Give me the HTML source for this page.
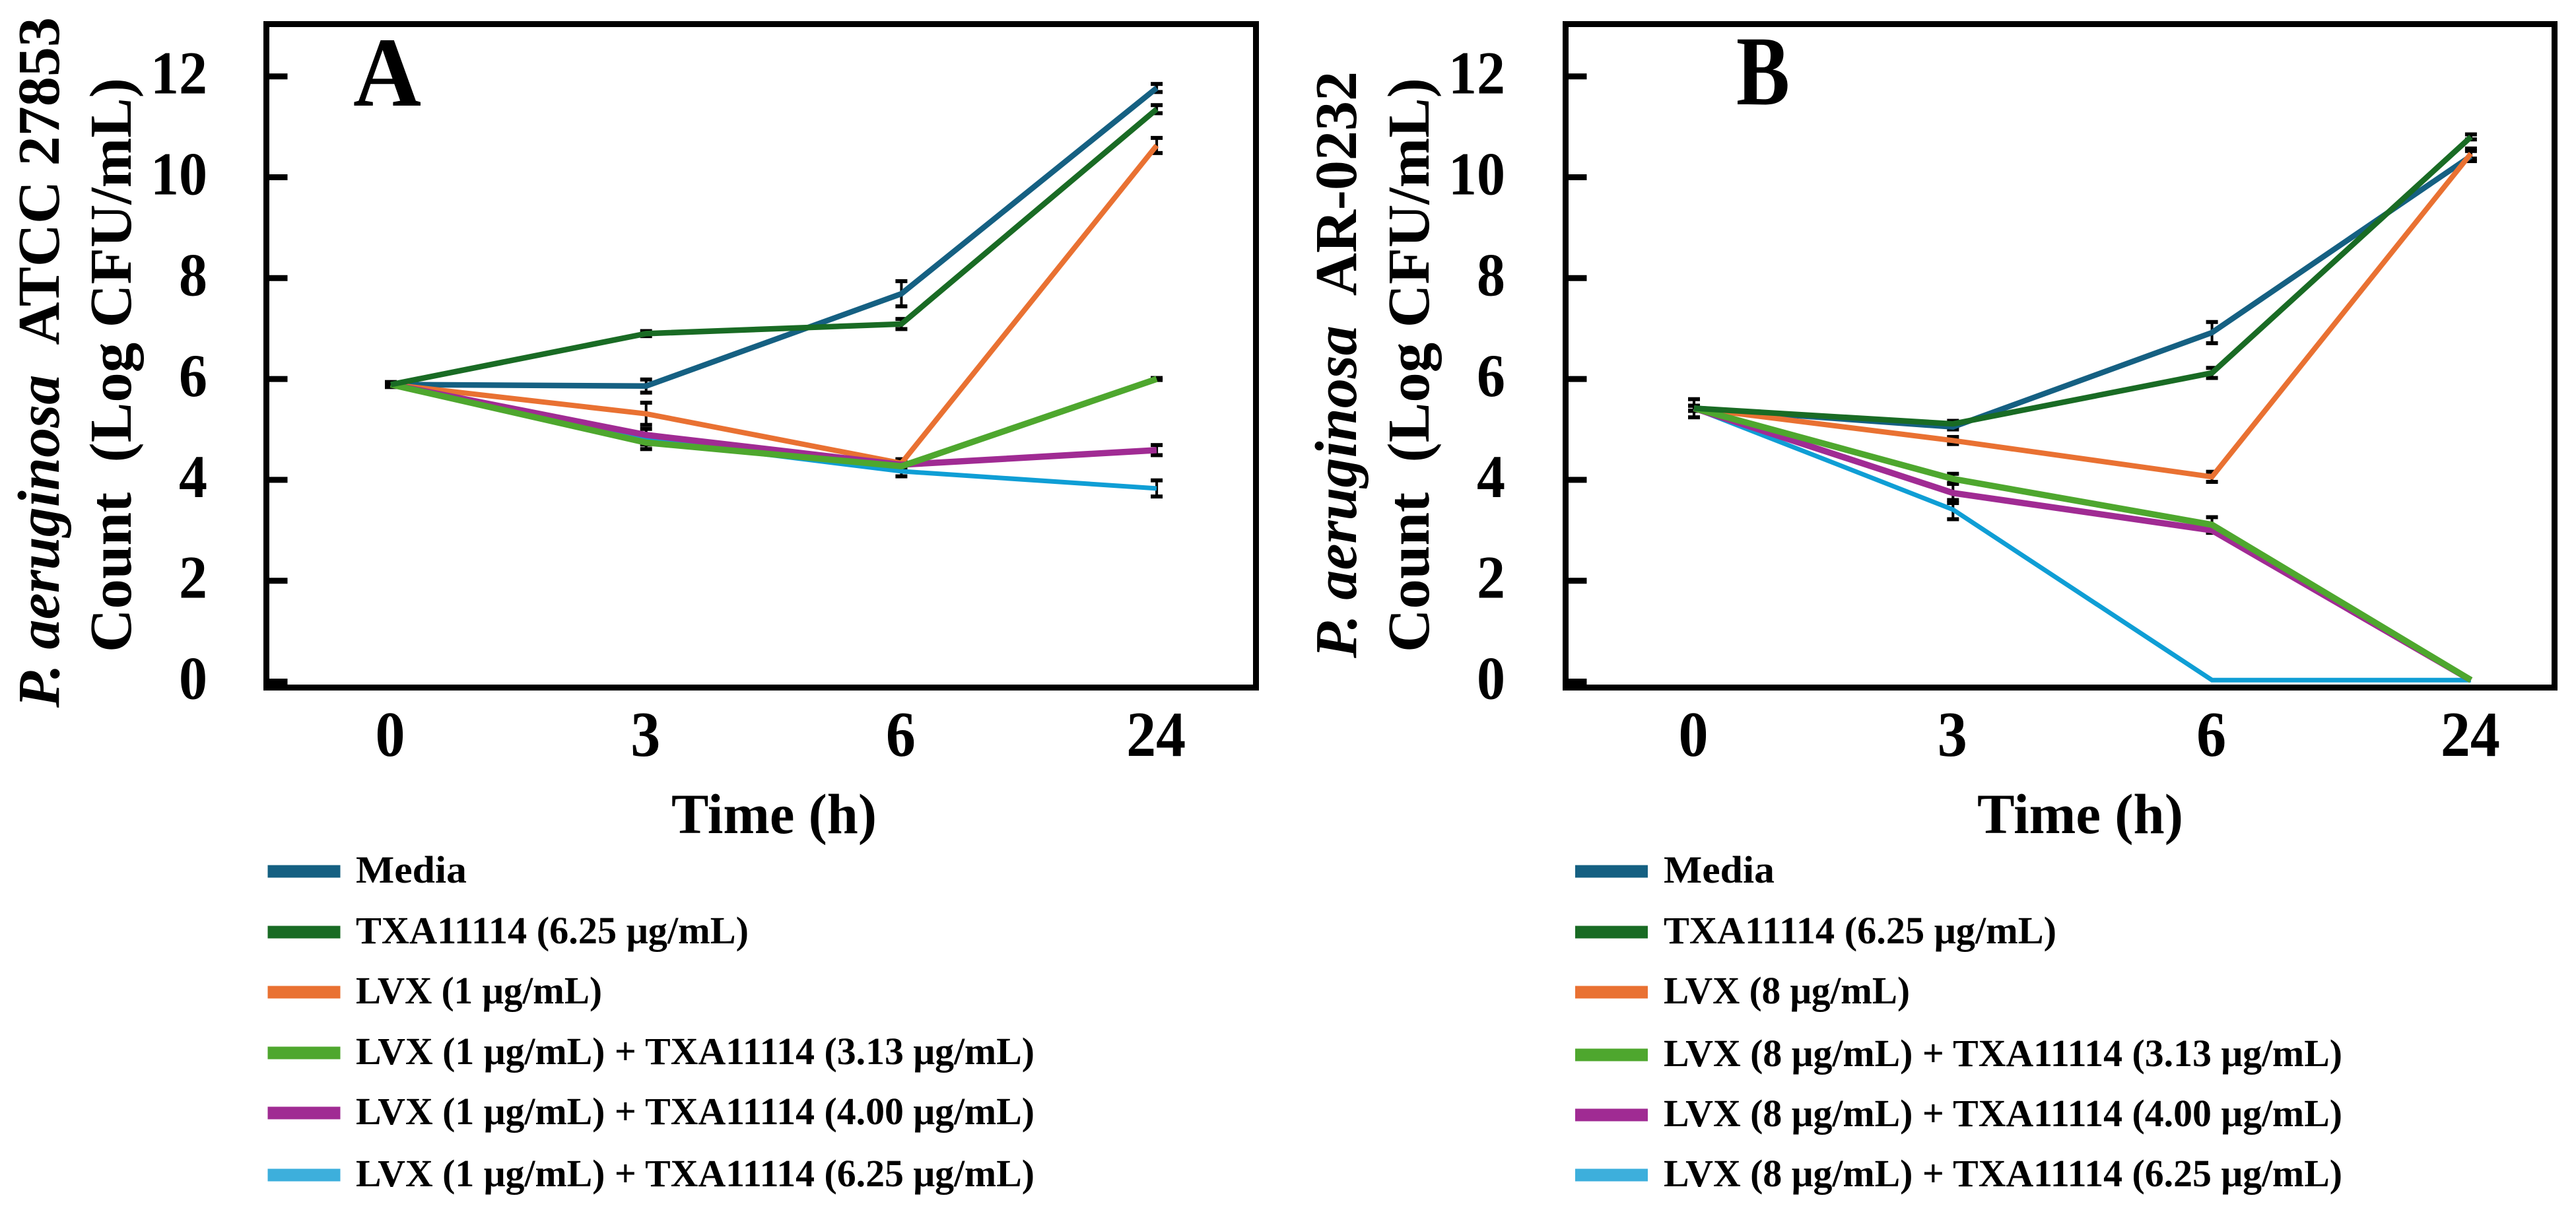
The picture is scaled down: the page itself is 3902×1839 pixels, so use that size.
<!DOCTYPE html>
<html>
<head>
<meta charset="utf-8">
<title>P. aeruginosa time-kill curves</title>
<style>
html,body{margin:0;padding:0;background:#fff;}
svg{display:block;}
text{font-family:"Liberation Serif",serif;font-weight:bold;fill:#000;}
</style>
</head>
<body>
<svg id="figure" xmlns="http://www.w3.org/2000/svg" width="3902" height="1839" viewBox="0 0 3902 1839">
  <rect x="0" y="0" width="3902" height="1839" fill="#fff"/>

  <g id="panelA">
    <text x="535" y="160" font-size="150" textLength="103" lengthAdjust="spacingAndGlyphs">A</text>
    <g transform="translate(89,1072) rotate(-90)">
      <text x="0" y="0" font-size="90" textLength="1046" lengthAdjust="spacingAndGlyphs"><tspan font-style="italic">P. aeruginosa</tspan>&#160;&#160;ATCC 27853</text>
    </g>
    <g transform="translate(198,988) rotate(-90)">
      <text x="0" y="0" font-size="90" textLength="870" lengthAdjust="spacingAndGlyphs">Count&#160;&#160;(Log CFU/mL)</text>
    </g>
    <text x="1017" y="1262" font-size="86" textLength="311" lengthAdjust="spacingAndGlyphs">Time (h)</text>
  </g>

  <g id="panelB">
    <text x="2630" y="158" font-size="150" textLength="81" lengthAdjust="spacingAndGlyphs">B</text>
    <g transform="translate(2054,997) rotate(-90)">
      <text x="0" y="0" font-size="90" textLength="889" lengthAdjust="spacingAndGlyphs"><tspan font-style="italic">P. aeruginosa</tspan>&#160;&#160;AR-0232</text>
    </g>
    <g transform="translate(2164,988) rotate(-90)">
      <text x="0" y="0" font-size="90" textLength="870" lengthAdjust="spacingAndGlyphs">Count&#160;&#160;(Log CFU/mL)</text>
    </g>
    <text x="2995" y="1262" font-size="86" textLength="312" lengthAdjust="spacingAndGlyphs">Time (h)</text>
  </g>

  <g id="legendA"></g>
  <g id="legendB"></g>
</svg>

<script>
// Shared categories and ticks
const timeLabels = ['0', '3', '6', '24'];
const yTicks = [0, 2, 4, 6, 8, 10, 12];
const seriesColors = ['#0F9ED5', '#156082', '#E97132', '#A02B93', '#4EA72E', '#196B24'];
const seriesKeys = ['lvx-txa-6-25', 'media', 'lvx', 'lvx-txa-4-00', 'lvx-txa-3-13', 'txa'];
const seriesWidths = [7, 8.5, 8, 9.5, 9.5, 8.5];

// Panel A values (log CFU/mL)
const aMedia = [5.89, 5.86, 7.69, 11.77];
const aTxa = [5.89, 6.90, 7.09, 11.35];
const aLvx = [5.89, 5.31, 4.33, 10.63];
const aLvxTxa313 = [5.89, 4.74, 4.27, 6.00];
const aLvxTxa400 = [5.89, 4.89, 4.30, 4.59];
const aLvxTxa625 = [5.89, 4.80, 4.17, 3.83];
// Panel A error bars
const aMediaErr = [0.05, 0.13, 0.25, 0.08];
const aTxaErr = [0.03, 0.05, 0.10, 0.08];
const aLvxErr = [0.03, 0.22, 0.08, 0.15];
const aLvxTxa313Err = [0.03, 0.13, 0.05, 0.02];
const aLvxTxa400Err = [0.03, 0.12, 0.08, 0.10];
const aLvxTxa625Err = [0.03, 0.10, 0.10, 0.16];

// Panel B values (log CFU/mL)
const bMedia = [5.42, 5.05, 6.92, 10.42];
const bTxa = [5.42, 5.11, 6.12, 10.80];
const bLvx = [5.42, 4.78, 4.06, 10.47];
const bLvxTxa313 = [5.42, 4.02, 3.11, 0.03];
const bLvxTxa400 = [5.42, 3.74, 3.00, 0.03];
const bLvxTxa625 = [5.42, 3.41, 0.03, 0.03];
// Panel B error bars
const bMediaErr = [0.05, 0.05, 0.21, 0.10];
const bTxaErr = [0.05, 0.06, 0.10, 0.05];
const bLvxErr = [0.05, 0.07, 0.10, 0.10];
const bLvxTxa313Err = [0.18, 0.10, 0.15, 0];
const bLvxTxa400Err = [0.05, 0.20, 0.05, 0];
const bLvxTxa625Err = [0.05, 0.19, 0, 0];

// Legend labels
const legendLabelsA = ['Media', 'TXA11114 (6.25 μg/mL)', 'LVX (1 μg/mL)', 'LVX (1 μg/mL) + TXA11114 (3.13 μg/mL)', 'LVX (1 μg/mL) + TXA11114 (4.00 μg/mL)', 'LVX (1 μg/mL) + TXA11114 (6.25 μg/mL)'];
const legendLabelsB = ['Media', 'TXA11114 (6.25 μg/mL)', 'LVX (8 μg/mL)', 'LVX (8 μg/mL) + TXA11114 (3.13 μg/mL)', 'LVX (8 μg/mL) + TXA11114 (4.00 μg/mL)', 'LVX (8 μg/mL) + TXA11114 (6.25 μg/mL)'];
const legendColors = ['#156082', '#196B24', '#E97132', '#4EA72E', '#A02B93', '#3DAFDC'];

const NS = 'http://www.w3.org/2000/svg';
function make(parent, tag, attrs) {
  const el = document.createElementNS(NS, tag);
  for (const k in attrs) el.setAttribute(k, attrs[k]);
  parent.appendChild(el);
  return el;
}
function yScale(v) { return 1032.5 - 76.4 * v; }

function drawPanel(parent, prefix, frameLeft, frameRight, x0, xStep, labelRight, values, errors) {
  const xScale = function (i) { return x0 + xStep * i; };

  // frame
  const frame = make(parent, 'rect', { x: frameLeft, y: 36.5, width: frameRight - frameLeft, height: 1005, fill: 'none', stroke: '#000', 'stroke-width': 9 });
  
  

  // y ticks and labels
  yTicks.forEach(function (t) {
    const tick = make(parent, 'line', { x1: frameLeft, x2: frameLeft + 32, y1: yScale(t), y2: yScale(t), stroke: '#000', 'stroke-width': 9 });
    
    
    const s = String(t);
    const lab = make(parent, 'text', { x: labelRight, y: yScale(t) + 26, 'font-size': 92, 'text-anchor': 'end', textLength: s.length * 43, lengthAdjust: 'spacingAndGlyphs' });
    lab.textContent = s;
    
    
  });

  // x labels
  timeLabels.forEach(function (c, i) {
    const lab = make(parent, 'text', { x: xScale(i) - 1, y: 1145, 'font-size': 98, 'text-anchor': 'middle', textLength: c.length * 45, lengthAdjust: 'spacingAndGlyphs' });
    lab.textContent = c;
    
    
  });

  // error bars beneath the lines
  values.forEach(function (vals, s) {
    vals.forEach(function (v, i) {
      if (errors[s][i] <= 0) return;
      const x = xScale(i);
      const hi = yScale(v + errors[s][i]);
      const lo = yScale(v - errors[s][i]);
      const bar = make(parent, 'line', { x1: x, x2: x, y1: hi, y2: lo, stroke: '#000', 'stroke-width': 4 });
      
      
      const capTop = make(parent, 'rect', { x: x - 9, y: hi - 3, width: 18, height: 6, fill: '#000' });
      
      
      const capBot = make(parent, 'rect', { x: x - 9, y: lo - 3, width: 18, height: 6, fill: '#000' });
      
      
    });
  });

  // series lines
  values.forEach(function (vals, s) {
    const pts = vals.map(function (v, i) { return xScale(i) + ',' + yScale(v); }).join(' ');
    const line = make(parent, 'polyline', { points: pts, fill: 'none', stroke: seriesColors[s], 'stroke-width': seriesWidths[s], 'stroke-linejoin': 'miter' });
    
    
  });
}

function drawLegend(parent, prefix, swatchX, textX, labels, rowOffsets) {
  labels.forEach(function (label, i) {
    const center = 1320 + rowOffsets[i];
    const swatch = make(parent, 'rect', { x: swatchX, y: center - 9.5, width: 110, height: 19, fill: legendColors[i] });
    
    
    const w = i === 0 ? 168 : i === 1 ? 595 : i === 2 ? 373 : 1028;
    const txt = make(parent, 'text', { x: textX, y: center + 17, 'font-size': 58, textLength: w, lengthAdjust: 'spacingAndGlyphs' });
    txt.textContent = label;
    
    
  });
}

drawPanel(document.getElementById('panelA'), 'panel-a', 403.5, 1902.5, 592, 386.7, 314,
  [aLvxTxa625, aMedia, aLvx, aLvxTxa400, aLvxTxa313, aTxa],
  [aLvxTxa625Err, aMediaErr, aLvxErr, aLvxTxa400Err, aLvxTxa313Err, aTxaErr]);

drawPanel(document.getElementById('panelB'), 'panel-b', 2371.5, 3869.5, 2566, 392.3, 2280,
  [bLvxTxa625, bMedia, bLvx, bLvxTxa400, bLvxTxa313, bTxa],
  [bLvxTxa625Err, bMediaErr, bLvxErr, bLvxTxa400Err, bLvxTxa313Err, bTxaErr]);

drawLegend(document.getElementById('legendA'), 'panel-a', 405.5, 539, legendLabelsA, [0, 92, 183, 275, 366, 460]);
drawLegend(document.getElementById('legendB'), 'panel-b', 2386, 2520, legendLabelsB, [0, 92, 183, 278, 369, 460]);
</script>
</body>
</html>
